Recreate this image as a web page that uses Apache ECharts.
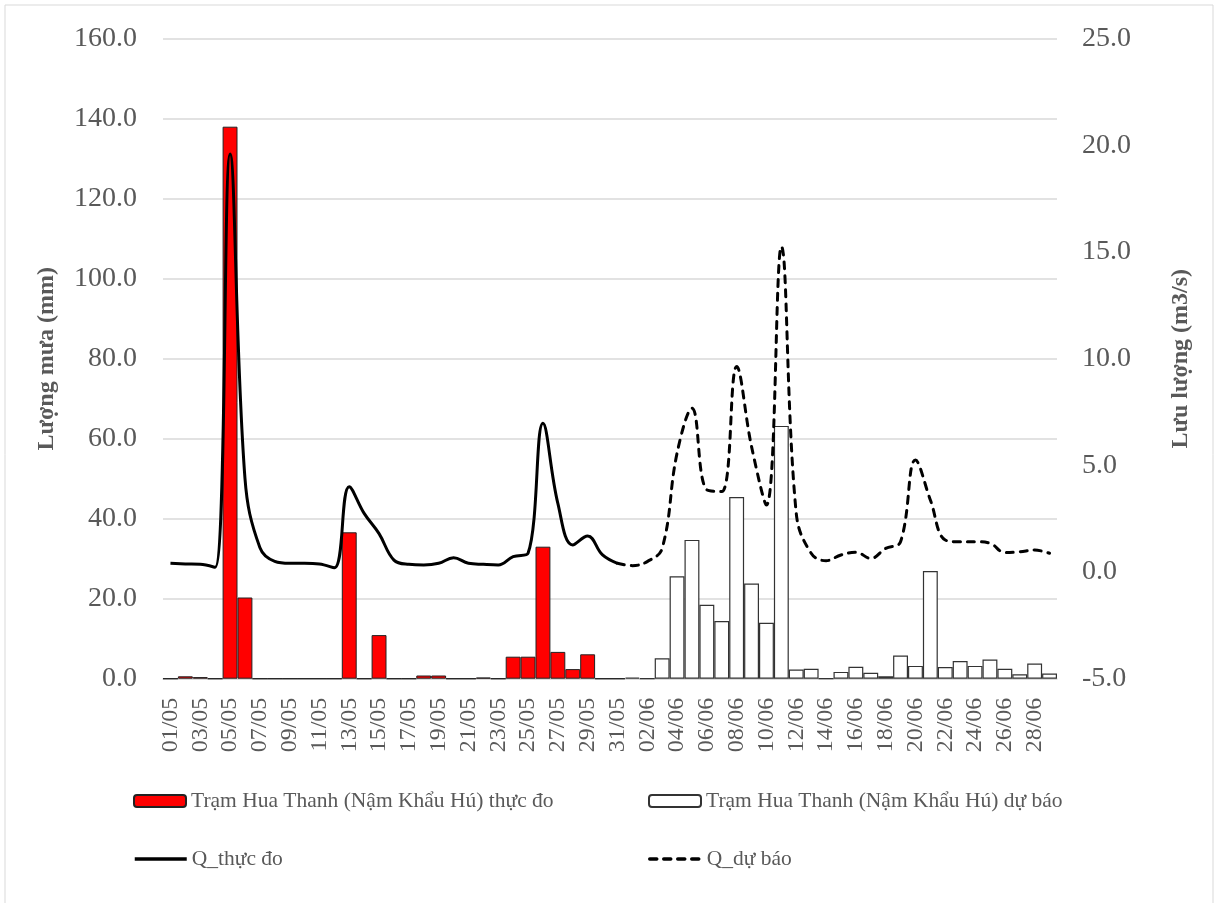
<!DOCTYPE html>
<html><head><meta charset="utf-8">
<script src="https://cdn.jsdelivr.net/npm/echarts@6/dist/echarts.min.js"></script>
<style>html,body{margin:0;padding:0;background:#fff}#c{width:1214px;height:903px}</style>
</head><body><div id="c"></div>
<script>
const categories = ['01/05','02/05','03/05','04/05','05/05','06/05','07/05','08/05','09/05','10/05','11/05','12/05','13/05','14/05','15/05','16/05','17/05','18/05','19/05','20/05','21/05','22/05','23/05','24/05','25/05','26/05','27/05','28/05','29/05','30/05','31/05',
'01/06','02/06','03/06','04/06','05/06','06/06','07/06','08/06','09/06','10/06','11/06','12/06','13/06','14/06','15/06','16/06','17/06','18/06','19/06','20/06','21/06','22/06','23/06','24/06','25/06','26/06','27/06','28/06','29/06'];
// Rainfall observed (May)
const rainObserved = [0, 0.6, 0.4, 0, 138.0, 20.3, 0, 0, 0, 0, 0, 0, 36.6, 0, 10.9, 0, 0, 0.8, 0.8, 0, 0, 0.3, 0, 5.5, 5.5, 33.0, 6.7, 2.4, 6.1, 0, 0];
// Rainfall forecast (June)
const rainForecast = [0.3, 0, 5.1, 25.6, 34.7, 18.5, 14.4, 45.4, 23.8, 14.0, 63.2, 2.3, 2.5, 0, 1.7, 3.0, 1.5, 0.6, 5.8, 3.2, 26.9, 2.9, 4.4, 3.2, 4.8, 2.5, 1.1, 3.8, 1.3];
// Discharge observed (01/05 - 31/05)
const qObserved = [0.41, 0.38, 0.36, 0.22, 19.6, 4.4, 1.15, 0.5, 0.41, 0.41, 0.38, 0.2, 4.0, 2.75, 1.8, 0.56, 0.36, 0.33, 0.41, 0.67, 0.41, 0.36, 0.33, 0.72, 0.88, 6.97, 3.22, 1.27, 1.69, 0.8, 0.41];
// Discharge forecast (31/05 - 29/06)
const qForecast = [0.41, 0.3, 0.49, 1.11, 5.57, 7.68, 3.85, 3.77, 9.63, 5.88, 3.14, 15.25, 2.75, 0.88, 0.53, 0.8, 0.93, 0.64, 1.11, 1.42, 5.25, 3.38, 1.5, 1.42, 1.42, 1.35, 0.91, 0.95, 1.03, 0.88];

const N = categories.length;
const barObs = categories.map((c, i) => i < rainObserved.length ? rainObserved[i] : null);
const barFc = categories.map((c, i) => i >= rainObserved.length ? rainForecast[i - rainObserved.length] : null);
const lineObs = categories.map((c, i) => i < qObserved.length ? qObserved[i] : null);
const fcStart = N - qForecast.length;
const lineFc = categories.map((c, i) => i >= fcStart ? qForecast[i - fcStart] : null);

const FONT = "'Liberation Serif','Times New Roman',serif";
const TXT = '#595959';
const names = ['Trạm Hua Thanh (Nậm Khẩu Hú) thực đo', 'Trạm Hua Thanh (Nậm Khẩu Hú) dự báo', 'Q_thực đo', 'Q_dự báo'];

function lg(name, left, top, isLine) {
  const o = {
    data: [name], left: left, top: top, itemWidth: 52, itemHeight: 12,
    textStyle: { fontFamily: FONT, fontSize: 21.5, color: TXT }, selectedMode: false
  };
  if (isLine) { o.itemStyle = { opacity: 0 }; o.lineStyle = { width: 3.5 }; }
  return o;
}

const chart = echarts.init(document.getElementById('c'), null, { renderer: 'canvas' });
chart.setOption({
  animation: false,
  backgroundColor: '#fff',
  graphic: [{ type: 'rect', shape: { x: 5, y: 5, width: 1208, height: 910 }, style: { fill: 'none', stroke: '#d9d9d9', lineWidth: 1 }, silent: true }],
  grid: { left: 163, right: 157, top: 38.7, bottom: 224.3, containLabel: false },
  legend: [lg(names[0], 128, 785, false), lg(names[1], 643, 785, false), lg(names[2], 128, 843, true), lg(names[3], 643, 843, true)],
  xAxis: {
    type: 'category', data: categories, boundaryGap: true,
    axisLine: { show: true, lineStyle: { color: '#d9d9d9', width: 1.5 } },
    axisTick: { show: false },
    axisLabel: { interval: 1, rotate: 90, margin: 19, fontFamily: FONT, fontSize: 24, color: TXT }
  },
  yAxis: [{
    type: 'value', min: 0, max: 160, interval: 20,
    name: 'Lượng mưa (mm)', nameLocation: 'middle', nameRotate: 90, nameGap: 104,
    nameTextStyle: { fontFamily: FONT, fontSize: 24, fontWeight: 'bold', color: TXT },
    axisLine: { show: false }, axisTick: { show: false },
    axisLabel: { margin: 26, fontFamily: FONT, fontSize: 28, color: TXT, formatter: v => v.toFixed(1) },
    splitLine: { lineStyle: { color: '#d9d9d9', width: 1.5 } }
  }, {
    type: 'value', min: -5, max: 25, interval: 5, position: 'right',
    name: 'Lưu lượng (m3/s)', nameLocation: 'middle', nameRotate: 90, nameGap: 112,
    nameTextStyle: { fontFamily: FONT, fontSize: 24, fontWeight: 'bold', color: TXT },
    axisLine: { show: false }, axisTick: { show: false },
    axisLabel: { margin: 25, fontFamily: FONT, fontSize: 28, color: TXT, formatter: v => v.toFixed(1) },
    splitLine: { show: false }
  }],
  series: [{
    name: names[0], type: 'bar', data: barObs, yAxisIndex: 0, barGap: '-100%', barCategoryGap: 0,
    itemStyle: { color: '#ff0000', borderColor: '#222', borderWidth: 1 }
  }, {
    name: names[1], type: 'bar', data: barFc, yAxisIndex: 0, barGap: '-100%', barCategoryGap: 0,
    itemStyle: { color: '#ffffff', borderColor: '#333', borderWidth: 1.2 }
  }, {
    name: names[2], type: 'line', data: lineObs, yAxisIndex: 1, smooth: 0.4, symbol: 'none', showSymbol: false,
    lineStyle: { color: '#000', width: 3 }, itemStyle: { color: '#000' }, z: 5
  }, {
    name: names[3], type: 'line', data: lineFc, yAxisIndex: 1, smooth: 0.4, symbol: 'none', showSymbol: false,
    lineStyle: { color: '#000', width: 3, type: [7, 7], cap: 'round' }, itemStyle: { color: '#000' }, z: 5
  }]
});
</script></body></html>
